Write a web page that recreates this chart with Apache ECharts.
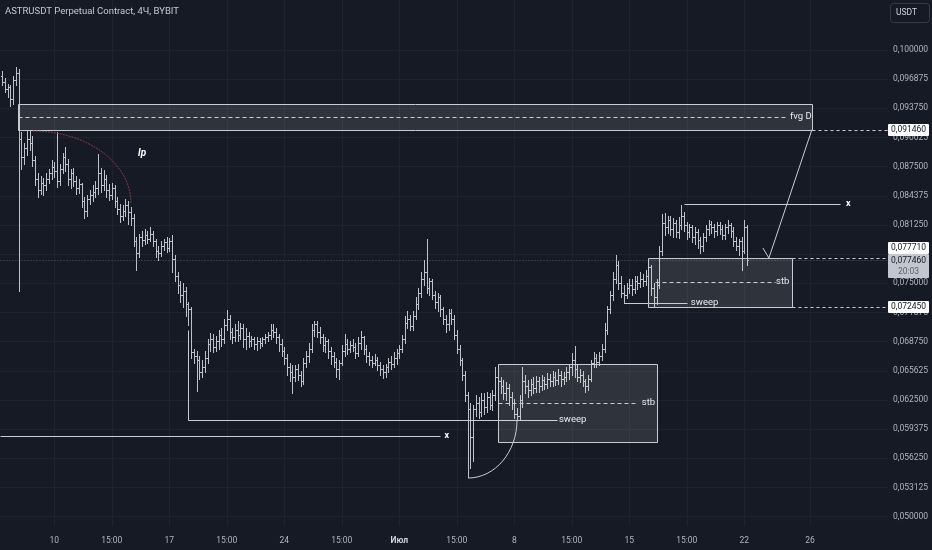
<!DOCTYPE html>
<html><head><meta charset="utf-8">
<script src="https://cdn.jsdelivr.net/npm/echarts@6/dist/echarts.min.js"></script>
<style>html,body{margin:0;padding:0;background:#161a25;}#c{width:932px;height:550px;}</style>
</head><body><div id="c"></div>
<script>
// ---- data: 4H OHLC bars (index 0 .. 272) ----
const opens = [
0.0972,0.0966,0.0958,0.0960,0.0948,0.0968,0.0975,0.0905,0.0885,0.0895,
0.0905,0.0900,0.0882,0.0862,0.0850,0.0858,0.0855,0.0862,0.0868,0.0875,
0.0870,0.0860,0.0872,0.0885,0.0878,0.0862,0.0868,0.0860,0.0852,0.0856,
0.0838,0.0828,0.0840,0.0845,0.0848,0.0852,0.0868,0.0855,0.0862,0.0850,
0.0845,0.0852,0.0838,0.0830,0.0822,0.0828,0.0834,0.0826,0.0820,0.0795,
0.0782,0.0800,0.0796,0.0802,0.0798,0.0803,0.0795,0.0785,0.0782,0.0790,
0.0794,0.0788,0.0795,0.0776,0.0758,0.0748,0.0738,0.0742,0.0728,0.0722,
0.0676,0.0672,0.0668,0.0655,0.0660,0.0670,0.0685,0.0690,0.0682,0.0688,
0.0695,0.0690,0.0705,0.0712,0.0698,0.0692,0.0700,0.0695,0.0702,0.0690,
0.0694,0.0688,0.0690,0.0685,0.0688,0.0686,0.0690,0.0692,0.0695,0.0700,
0.0698,0.0692,0.0685,0.0678,0.0670,0.0660,0.0655,0.0650,0.0658,0.0652,
0.0645,0.0665,0.0672,0.0680,0.0700,0.0706,0.0698,0.0692,0.0684,0.0688,
0.0678,0.0672,0.0666,0.0658,0.0665,0.0678,0.0685,0.0680,0.0684,0.0682,
0.0675,0.0686,0.0692,0.0680,0.0672,0.0668,0.0665,0.0668,0.0662,0.0658,
0.0655,0.0660,0.0666,0.0664,0.0670,0.0675,0.0680,0.0690,0.0708,0.0712,
0.0704,0.0715,0.0728,0.0740,0.0755,0.0762,0.0745,0.0752,0.0738,0.0730,
0.0735,0.0722,0.0712,0.0706,0.0718,0.0712,0.0695,0.0680,0.0668,0.0652,
0.0630,0.0615,0.0585,0.0615,0.0622,0.0612,0.0625,0.0618,0.0628,0.0620,
0.0630,0.0650,0.0645,0.0640,0.0632,0.0638,0.0628,0.0622,0.0610,0.0608,
0.0625,0.0645,0.0640,0.0636,0.0642,0.0638,0.0645,0.0640,0.0646,0.0642,
0.0648,0.0645,0.0650,0.0646,0.0652,0.0647,0.0650,0.0655,0.0660,0.0668,
0.0658,0.0650,0.0652,0.0645,0.0640,0.0648,0.0665,0.0670,0.0666,0.0672,
0.0680,0.0700,0.0722,0.0738,0.0755,0.0770,0.0750,0.0740,0.0738,0.0745,
0.0748,0.0744,0.0752,0.0750,0.0755,0.0752,0.0758,0.0768,0.0745,0.0735,
0.0748,0.0785,0.0815,0.0810,0.0818,0.0808,0.0815,0.0805,0.0812,0.0822,
0.0812,0.0805,0.0810,0.0800,0.0805,0.0796,0.0790,0.0800,0.0808,0.0814,
0.0810,0.0806,0.0812,0.0808,0.0802,0.0810,0.0812,0.0806,0.0795,0.0790,
0.0795,0.0785,0.0810];
const closes = [
0.0966,0.0958,0.0960,0.0948,0.0968,0.0975,0.0905,0.0885,0.0895,0.0905,
0.0900,0.0882,0.0862,0.0850,0.0858,0.0855,0.0862,0.0868,0.0875,0.0870,
0.0860,0.0872,0.0885,0.0878,0.0862,0.0868,0.0860,0.0852,0.0856,0.0838,
0.0828,0.0840,0.0845,0.0848,0.0852,0.0868,0.0855,0.0862,0.0850,0.0845,
0.0852,0.0838,0.0830,0.0822,0.0828,0.0834,0.0826,0.0820,0.0795,0.0782,
0.0800,0.0796,0.0802,0.0798,0.0803,0.0795,0.0785,0.0782,0.0790,0.0794,
0.0788,0.0795,0.0776,0.0758,0.0748,0.0738,0.0742,0.0728,0.0722,0.0676,
0.0672,0.0668,0.0655,0.0660,0.0670,0.0685,0.0690,0.0682,0.0688,0.0695,
0.0690,0.0705,0.0712,0.0698,0.0692,0.0700,0.0695,0.0702,0.0690,0.0694,
0.0688,0.0690,0.0685,0.0688,0.0686,0.0690,0.0692,0.0695,0.0700,0.0698,
0.0692,0.0685,0.0678,0.0670,0.0660,0.0655,0.0650,0.0658,0.0652,0.0645,
0.0665,0.0672,0.0680,0.0700,0.0706,0.0698,0.0692,0.0684,0.0688,0.0678,
0.0672,0.0666,0.0658,0.0665,0.0678,0.0685,0.0680,0.0684,0.0682,0.0675,
0.0686,0.0692,0.0680,0.0672,0.0668,0.0665,0.0668,0.0662,0.0658,0.0655,
0.0660,0.0666,0.0664,0.0670,0.0675,0.0680,0.0690,0.0708,0.0712,0.0704,
0.0715,0.0728,0.0740,0.0755,0.0762,0.0745,0.0752,0.0738,0.0730,0.0735,
0.0722,0.0712,0.0706,0.0718,0.0712,0.0695,0.0680,0.0668,0.0652,0.0630,
0.0615,0.0585,0.0615,0.0622,0.0612,0.0625,0.0618,0.0628,0.0620,0.0630,
0.0650,0.0645,0.0640,0.0632,0.0638,0.0628,0.0622,0.0610,0.0608,0.0625,
0.0645,0.0640,0.0636,0.0642,0.0638,0.0645,0.0640,0.0646,0.0642,0.0648,
0.0645,0.0650,0.0646,0.0652,0.0647,0.0650,0.0655,0.0660,0.0668,0.0658,
0.0650,0.0652,0.0645,0.0640,0.0648,0.0665,0.0670,0.0666,0.0672,0.0680,
0.0700,0.0722,0.0738,0.0755,0.0770,0.0750,0.0740,0.0738,0.0745,0.0748,
0.0744,0.0752,0.0750,0.0755,0.0752,0.0758,0.0768,0.0745,0.0735,0.0748,
0.0785,0.0815,0.0810,0.0818,0.0808,0.0815,0.0805,0.0812,0.0822,0.0812,
0.0805,0.0810,0.0800,0.0805,0.0796,0.0790,0.0800,0.0808,0.0814,0.0810,
0.0806,0.0812,0.0808,0.0802,0.0810,0.0812,0.0806,0.0795,0.0790,0.0795,
0.0785,0.0810,0.07746];
const lows = [
0.0962,0.0955,0.0950,0.0940,0.0942,0.0962,0.0742,0.0872,0.0878,0.0888,
0.0893,0.0876,0.0855,0.0843,0.0846,0.0845,0.0850,0.0857,0.0862,0.0864,
0.0853,0.0855,0.0868,0.0870,0.0855,0.0852,0.0854,0.0846,0.0847,0.0832,
0.0820,0.0822,0.0835,0.0838,0.0842,0.0846,0.0848,0.0850,0.0842,0.0839,
0.0840,0.0832,0.0824,0.0816,0.0818,0.0822,0.0814,0.0813,0.0790,0.0764,
0.0778,0.0790,0.0792,0.0793,0.0795,0.0790,0.0778,0.0775,0.0779,0.0786,
0.0784,0.0785,0.0762,0.0752,0.0740,0.0730,0.0725,0.0715,0.0705,0.0670,
0.0665,0.0635,0.0648,0.0650,0.0655,0.0665,0.0678,0.0676,0.0678,0.0680,
0.0683,0.0686,0.0700,0.0690,0.0686,0.0688,0.0688,0.0690,0.0682,0.0680,
0.0682,0.0683,0.0680,0.0679,0.0681,0.0683,0.0686,0.0688,0.0690,0.0692,
0.0686,0.0678,0.0672,0.0664,0.0652,0.0645,0.0632,0.0645,0.0646,0.0640,
0.0642,0.0660,0.0666,0.0676,0.0694,0.0692,0.0686,0.0678,0.0676,0.0670,
0.0664,0.0660,0.0650,0.0648,0.0662,0.0672,0.0674,0.0676,0.0677,0.0670,
0.0672,0.0680,0.0674,0.0666,0.0662,0.0660,0.0662,0.0657,0.0652,0.0649,
0.0650,0.0655,0.0658,0.0660,0.0664,0.0670,0.0676,0.0686,0.0702,0.0700,
0.0700,0.0712,0.0722,0.0735,0.0748,0.0740,0.0738,0.0733,0.0724,0.0720,
0.0715,0.0706,0.0698,0.0700,0.0706,0.0690,0.0675,0.0662,0.0646,0.0624,
0.0542,0.0552,0.0560,0.0608,0.0606,0.0608,0.0610,0.0612,0.0615,0.0614,
0.0625,0.0636,0.0632,0.0626,0.0625,0.0620,0.0615,0.0606,0.0604,0.0605,
0.0618,0.0632,0.0628,0.0630,0.0632,0.0634,0.0634,0.0636,0.0637,0.0638,
0.0640,0.0640,0.0641,0.0642,0.0640,0.0642,0.0645,0.0648,0.0652,0.0650,
0.0645,0.0644,0.0640,0.0634,0.0636,0.0645,0.0660,0.0660,0.0662,0.0668,
0.0676,0.0696,0.0718,0.0732,0.0750,0.0744,0.0735,0.0729,0.0734,0.0740,
0.0738,0.0740,0.0744,0.0746,0.0747,0.0748,0.0752,0.0738,0.0725,0.0728,
0.0745,0.0780,0.0802,0.0804,0.0802,0.0800,0.0800,0.0799,0.0808,0.0806,
0.0798,0.0800,0.0794,0.0792,0.0788,0.0782,0.0785,0.0795,0.0802,0.0804,
0.0800,0.0802,0.0803,0.0797,0.0798,0.0804,0.0800,0.0790,0.0786,0.0780,
0.0764,0.0782,0.0770];
const highs = [
0.0978,0.0970,0.0964,0.0962,0.0972,0.0982,0.0980,0.0912,0.0900,0.0913,
0.0914,0.0908,0.0886,0.0868,0.0865,0.0863,0.0868,0.0872,0.0882,0.0880,
0.0912,0.0878,0.0890,0.0896,0.0883,0.0872,0.0874,0.0865,0.0862,0.0858,
0.0842,0.0845,0.0850,0.0855,0.0860,0.0889,0.0874,0.0871,0.0866,0.0856,
0.0858,0.0855,0.0842,0.0835,0.0834,0.0840,0.0838,0.0832,0.0824,0.0800,
0.0803,0.0806,0.0808,0.0806,0.0810,0.0806,0.0798,0.0790,0.0795,0.0798,
0.0800,0.0799,0.0802,0.0780,0.0762,0.0752,0.0750,0.0746,0.0730,0.0725,
0.0680,0.0678,0.0672,0.0668,0.0678,0.0690,0.0697,0.0696,0.0694,0.0700,
0.0702,0.0712,0.0721,0.0716,0.0702,0.0706,0.0710,0.0708,0.0706,0.0702,
0.0698,0.0694,0.0693,0.0692,0.0691,0.0693,0.0696,0.0698,0.0706,0.0706,
0.0702,0.0696,0.0690,0.0682,0.0674,0.0665,0.0662,0.0662,0.0664,0.0656,
0.0670,0.0678,0.0686,0.0706,0.0710,0.0710,0.0703,0.0696,0.0692,0.0690,
0.0682,0.0676,0.0670,0.0668,0.0684,0.0696,0.0690,0.0688,0.0690,0.0686,
0.0692,0.0699,0.0694,0.0684,0.0676,0.0672,0.0674,0.0671,0.0666,0.0662,
0.0664,0.0670,0.0672,0.0676,0.0680,0.0684,0.0695,0.0715,0.0720,0.0716,
0.0720,0.0735,0.0745,0.0762,0.0775,0.0798,0.0756,0.0755,0.0742,0.0740,
0.0738,0.0725,0.0716,0.0722,0.0722,0.0716,0.0700,0.0684,0.0670,0.0656,
0.0634,0.0622,0.0620,0.0630,0.0628,0.0632,0.0632,0.0634,0.0632,0.0636,
0.0660,0.0656,0.0650,0.0646,0.0644,0.0642,0.0634,0.0626,0.0616,0.0630,
0.0660,0.0652,0.0646,0.0648,0.0650,0.0651,0.0650,0.0652,0.0650,0.0654,
0.0653,0.0656,0.0655,0.0658,0.0656,0.0655,0.0660,0.0664,0.0675,0.0683,
0.0662,0.0658,0.0656,0.0648,0.0652,0.0668,0.0676,0.0674,0.0676,0.0685,
0.0708,0.0726,0.0742,0.0762,0.0780,0.0774,0.0758,0.0748,0.0750,0.0755,
0.0755,0.0758,0.0758,0.0762,0.0760,0.0764,0.0774,0.0770,0.0750,0.0755,
0.0790,0.0824,0.0825,0.0822,0.0822,0.0820,0.0818,0.0821,0.0834,0.0826,
0.0816,0.0814,0.0813,0.0810,0.0808,0.0800,0.0804,0.0812,0.0818,0.0817,
0.0814,0.0816,0.0816,0.0812,0.0814,0.0818,0.0815,0.0810,0.0800,0.0798,
0.0800,0.0818,0.0812];

// time axis labels (bar index -> text)
const xTickIndex = [19, 40, 61, 82, 103, 124, 145, 166, 187, 208, 229, 250, 271, 295];
const xTickText  = ['10','15:00','17','15:00','24','15:00','Июл','15:00','8','15:00','15','15:00','22','26'];
// price axis labels
const yTicks = [0.05,0.053125,0.05625,0.059375,0.0625,0.065625,0.06875,0.071875,0.075,0.078125,
                0.08125,0.084375,0.0875,0.090625,0.09375,0.096875,0.1];
// annotation levels
const fvgTop = 0.094214, fvgBottom = 0.09146, fvgMid = 0.09282;
const lastPrice = 0.07746;
const upBoxTop = 0.07771, upBoxBottom = 0.07245, upStb = 0.07514, upSweep = 0.07289, upX = 0.0835;
const lowBoxTop = 0.06636, lowBoxBottom = 0.0580, lowStb = 0.06218, lowSweep = 0.06036, lowX = 0.05864;

const X_MIN = -0.83, X_MAX = 323.5;
const BAR = '#bfc2ca', LC = '#c9ccd4', TXT = '#b2b5be';

const barData = opens.map((o, i) => [i, o, closes[i], lows[i], highs[i]]);

function renderBar(params, api) {
  const i = api.value(0);
  const o = api.coord([i, api.value(1)]);
  const c = api.coord([i, api.value(2)]);
  const l = api.coord([i, api.value(3)]);
  const h = api.coord([i, api.value(4)]);
  const px = Math.round(o[0]) + 0.5;
  const st = {stroke: BAR, lineWidth: 1};
  return {type: 'group', children: [
    {type: 'line', shape: {x1: px, y1: Math.round(h[1]), x2: px, y2: Math.round(l[1]) + 1}, style: st},
    {type: 'line', shape: {x1: px - 1.5, y1: Math.round(o[1]) + 0.5, x2: px, y2: Math.round(o[1]) + 0.5}, style: st},
    {type: 'line', shape: {x1: px, y1: Math.round(c[1]) + 0.5, x2: px + 1.5, y2: Math.round(c[1]) + 0.5}, style: st}
  ]};
}

function renderAnno(params, api) {
  const C = (i, p) => api.coord([i, p]);
  const s = v => Math.round(v) + 0.5;
  const els = [];
  const line = (a, b, dash, color) => els.push({type: 'line',
    shape: {x1: s(a[0]), y1: s(a[1]), x2: s(b[0]), y2: s(b[1])},
    style: {stroke: color || LC, lineWidth: 1, lineDash: dash || null}});
  const rect = (a, b) => els.push({type: 'rect',
    shape: {x: s(a[0]), y: s(a[1]), width: Math.round(b[0] - a[0]), height: Math.round(b[1] - a[1])},
    style: {fill: 'rgba(255,255,255,0.11)', stroke: LC, lineWidth: 1}});
  const text = (p, t, font, color, align) => els.push({type: 'text', x: p[0], y: p[1],
    style: {text: t, fill: color || '#e8eaf0', font: font || '9px Roboto', align: align || 'left', verticalAlign: 'middle'}});
  const arc = (a, b, color, dash) => {
    const k = 0.5523;
    els.push({type: 'bezierCurve', shape: {x1: a[0], y1: a[1], x2: b[0], y2: b[1],
      cpx1: a[0] + k * (b[0] - a[0]), cpy1: a[1], cpx2: b[0], cpy2: b[1] + k * (a[1] - b[1])},
      style: {stroke: color, lineWidth: 1, fill: null, lineDash: dash || null}});
  };
  const right = C(X_MAX, lastPrice)[0];

  // last price line
  line(C(X_MIN, lastPrice), C(X_MAX, lastPrice), [1, 2], 'rgba(140,143,154,0.55)');

  // fvg D box
  rect(C(5.74, fvgTop), C(295.7, fvgBottom));
  line(C(5.74, fvgMid), C(285.9, fvgMid), [4, 3]);
  text(C(287.7, fvgMid), 'fvg D', '9.5px Roboto');
  line(C(295.7, fvgBottom), C(X_MAX, fvgBottom), [3, 3]);

  // lp arc
  arc(C(11.2, 0.09132), C(47, 0.08361), '#8a3a4c', [2, 1]);
  text(C(49.6, 0.08896), 'lp', 'italic bold 10px Roboto', '#ffffff');

  // lower structure
  els.push({type: 'polyline', shape: {points: [
    [s(C(67.8, 0.0700)[0]), s(C(67.8, 0.0700)[1])],
    [s(C(67.8, lowSweep)[0]), s(C(67.8, lowSweep)[1])],
    [s(C(202.6, lowSweep)[0]), s(C(202.6, lowSweep)[1])]]},
    style: {stroke: LC, lineWidth: 1, fill: null}});
  text(C(203.3, lowSweep), 'sweep', '9.5px Roboto');
  line(C(X_MIN, lowX), C(159.9, lowX));
  text(C(161.5, lowX), 'x', 'bold 9px Roboto', '#ffffff');
  rect(C(181.0, lowBoxTop), C(239.1, lowBoxBottom));
  line(C(181.0, lowStb), C(232.2, lowStb), [4, 3]);
  text(C(233.6, lowStb), 'stb', '9.5px Roboto');
  arc(C(170.1, 0.05414), C(188, lowSweep), LC);

  // upper structure
  rect(C(235.8, upBoxTop), C(288.4, upBoxBottom));
  line(C(238.4, upStb), C(282.2, upStb), [4, 3]);
  text(C(282.6, upStb), 'stb', '9.5px Roboto');
  line(C(227.1, upSweep), C(250.1, upSweep));
  text(C(251.5, upSweep), 'sweep', '9.5px Roboto');
  line(C(249, upX), C(306, upX));
  text(C(308.2, upX), 'x', 'bold 9px Roboto', '#ffffff');
  els.push({type: 'polyline', shape: {points: [C(277.8, 0.07879), C(280, upBoxTop), C(295.7, fvgBottom)]},
    style: {stroke: LC, lineWidth: 1, fill: null}});
  line(C(288.4, upBoxTop), C(X_MAX, upBoxTop), [3, 3]);
  line(C(288.4, upBoxBottom), C(X_MAX, upBoxBottom), [3, 3]);

  // price scale labels
  const fmt = v => v.toFixed(6).replace('.', ',');
  const tag = (yc, val, h) => {
    els.push({type: 'rect', shape: {x: right, y: Math.round(yc - h / 2), width: 41, height: h, r: 1},
      style: {fill: '#ffffff'}});
    text([right + 20.5, yc], fmt(val), '8.5px Roboto', '#131722', 'center');
  };
  tag(C(0, fvgBottom)[1], fvgBottom, 12);
  tag(C(0, upBoxBottom)[1], upBoxBottom, 12);
  const yl = C(0, lastPrice)[1];
  els.push({type: 'rect', shape: {x: right, y: Math.round(yl - 6), width: 41, height: 24, r: 1},
    style: {fill: '#c3c6ce'}});
  text([right + 20.5, yl], fmt(lastPrice), '8.5px Roboto', '#131722', 'center');
  text([right + 20.5, yl + 11.5], '20:03', '8.5px Roboto', '#5d606b', 'center');
  tag(Math.round(yl - 6) - 6, upBoxTop, 12);

  return {type: 'group', children: els};
}

const chart = echarts.init(document.getElementById('c'), null, {renderer: 'canvas'});
chart.setOption({
  animation: false,
  backgroundColor: '#161a25',
  title: {text: 'ASTRUSDT Perpetual Contract, 4Ч, BYBIT', left: 5, top: 7, padding: 0,
    textStyle: {color: '#c5c8d0', fontSize: 9.5, fontWeight: 'normal', fontFamily: 'Roboto'}},
  graphic: [
    {type: 'rect', left: 890, top: 3, shape: {width: 39, height: 19, r: 3},
     style: {fill: 'rgba(0,0,0,0)', stroke: '#363a45', lineWidth: 1}},
    {type: 'text', left: 896, top: 8, style: {text: 'USDT', fill: '#d1d4dc', font: '8.5px Roboto'}}
  ],
  grid: {left: 0, right: 44, top: 0, bottom: 24},
  xAxis: {type: 'value', min: X_MIN, max: X_MAX,
    axisLine: {show: false}, axisTick: {show: false, customValues: xTickIndex},
    axisLabel: {customValues: xTickIndex, margin: 10, color: TXT, fontSize: 8.5, fontFamily: 'Roboto',
      formatter: v => { const t = xTickText[xTickIndex.indexOf(Math.round(v))] || '';
        return t === 'Июл' ? '{b|' + t + '}' : t; },
      rich: {b: {fontWeight: 'bold', color: '#d1d4dc', fontSize: 8.5, fontFamily: 'Roboto'}}},
    splitLine: {show: true, lineStyle: {color: '#1f2330', width: 1}}},
  yAxis: {type: 'value', position: 'right', min: 0.049, max: 0.10536,
    axisLine: {show: false}, axisTick: {show: false, customValues: yTicks},
    axisLabel: {customValues: yTicks, margin: 5, color: TXT, fontSize: 8.5, fontFamily: 'Roboto',
      formatter: v => v.toFixed(6).replace('.', ',')},
    splitLine: {show: true, lineStyle: {color: '#1f2330', width: 1}}},
  series: [
    {type: 'custom', name: 'ASTRUSDT', renderItem: renderBar, data: barData,
     encode: {x: 0, y: [1, 2, 3, 4]}, z: 2, silent: true},
    {type: 'custom', name: 'drawings', renderItem: renderAnno, data: [[0, lastPrice]],
     encode: {x: 0, y: 1}, z: 5, silent: true}
  ]
});
</script></body></html>
